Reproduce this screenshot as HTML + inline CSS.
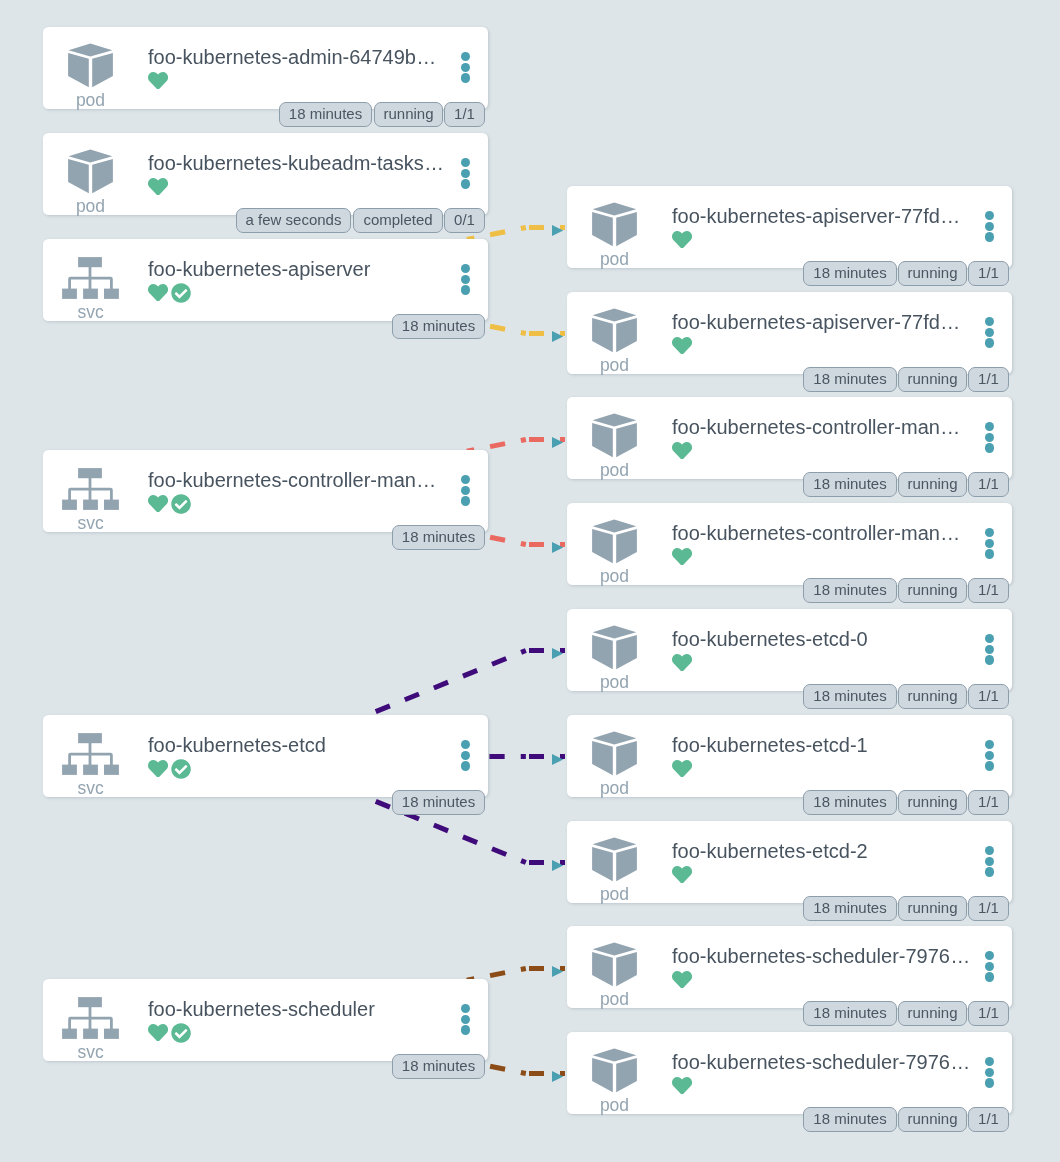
<!DOCTYPE html>
<html><head><meta charset="utf-8"><style>
html,body{margin:0;padding:0;}
body{width:1060px;height:1162px;background:#dee5e8;position:relative;overflow:hidden;font-family:"Liberation Sans",sans-serif;}
.edges{position:absolute;left:0;top:0;}
.card{position:absolute;width:445px;height:82px;background:#fff;border-radius:5.5px;box-shadow:1px 1px 3px rgba(120,140,155,0.35);}
.ic{position:absolute;}
.kind{position:absolute;left:0;width:95px;text-align:center;top:63.3px;font-size:17.5px;line-height:20px;color:#93a4b1;will-change:transform;}
.title{position:absolute;left:104.9px;top:18.5px;font-size:20px;line-height:23px;color:#47535f;white-space:nowrap;will-change:transform;}
.ell{letter-spacing:0.8px;margin-left:1.2px;}
.dot{position:absolute;left:417.6px;width:9.2px;height:9.2px;border-radius:50%;background:#4a9fb1;}
.tag{position:absolute;top:75px;box-sizing:border-box;height:25px;border:1px solid #8d9eab;border-radius:7px;background:#d0d8df;color:#4a5662;font-size:15px;line-height:22.6px;text-align:center;white-space:nowrap;will-change:transform;}
</style></head><body>
<svg class="edges" width="1060" height="1162"><line x1="525.85" y1="227.50" x2="466.80" y2="239.52" stroke="#efbf45" stroke-width="5" stroke-dasharray="15.3 16.1" stroke-dashoffset="10.2"/><line x1="529" y1="227.50" x2="565" y2="227.50" stroke="#efbf45" stroke-width="5" stroke-dasharray="15 16"/><line x1="525.85" y1="333.50" x2="464.45" y2="321.00" stroke="#efbf45" stroke-width="5" stroke-dasharray="15.3 16.1" stroke-dashoffset="10.2"/><line x1="529" y1="333.50" x2="565" y2="333.50" stroke="#efbf45" stroke-width="5" stroke-dasharray="15 16"/><line x1="525.85" y1="439.50" x2="466.80" y2="451.29" stroke="#ea6a62" stroke-width="5" stroke-dasharray="15.3 16.1" stroke-dashoffset="10.2"/><line x1="529" y1="439.50" x2="565" y2="439.50" stroke="#ea6a62" stroke-width="5" stroke-dasharray="15 16"/><line x1="525.85" y1="544.50" x2="464.45" y2="532.00" stroke="#ea6a62" stroke-width="5" stroke-dasharray="15.3 16.1" stroke-dashoffset="10.2"/><line x1="529" y1="544.50" x2="565" y2="544.50" stroke="#ea6a62" stroke-width="5" stroke-dasharray="15 16"/><line x1="525.85" y1="650.50" x2="367.43" y2="715.00" stroke="#3f0b7a" stroke-width="5" stroke-dasharray="15.3 16.1" stroke-dashoffset="10.2"/><line x1="529" y1="650.50" x2="565" y2="650.50" stroke="#3f0b7a" stroke-width="5" stroke-dasharray="15 16"/><line x1="525.85" y1="756.50" x2="488.00" y2="756.50" stroke="#3f0b7a" stroke-width="5" stroke-dasharray="15.3 16.1" stroke-dashoffset="10.2"/><line x1="529" y1="756.50" x2="565" y2="756.50" stroke="#3f0b7a" stroke-width="5" stroke-dasharray="15 16"/><line x1="525.85" y1="862.50" x2="364.97" y2="797.00" stroke="#3f0b7a" stroke-width="5" stroke-dasharray="15.3 16.1" stroke-dashoffset="10.2"/><line x1="529" y1="862.50" x2="565" y2="862.50" stroke="#3f0b7a" stroke-width="5" stroke-dasharray="15 16"/><line x1="525.85" y1="968.50" x2="466.80" y2="980.29" stroke="#8b4c17" stroke-width="5" stroke-dasharray="15.3 16.1" stroke-dashoffset="10.2"/><line x1="529" y1="968.50" x2="565" y2="968.50" stroke="#8b4c17" stroke-width="5" stroke-dasharray="15 16"/><line x1="525.85" y1="1073.50" x2="464.45" y2="1061.00" stroke="#8b4c17" stroke-width="5" stroke-dasharray="15.3 16.1" stroke-dashoffset="10.2"/><line x1="529" y1="1073.50" x2="565" y2="1073.50" stroke="#8b4c17" stroke-width="5" stroke-dasharray="15 16"/><polygon points="552,225.00 563.2,230.50 552,236.00" fill="#4a9fb1"/><polygon points="552,331.00 563.2,336.50 552,342.00" fill="#4a9fb1"/><polygon points="552,437.00 563.2,442.50 552,448.00" fill="#4a9fb1"/><polygon points="552,542.00 563.2,547.50 552,553.00" fill="#4a9fb1"/><polygon points="552,648.00 563.2,653.50 552,659.00" fill="#4a9fb1"/><polygon points="552,754.00 563.2,759.50 552,765.00" fill="#4a9fb1"/><polygon points="552,860.00 563.2,865.50 552,871.00" fill="#4a9fb1"/><polygon points="552,966.00 563.2,971.50 552,977.00" fill="#4a9fb1"/><polygon points="552,1071.00 563.2,1076.50 552,1082.00" fill="#4a9fb1"/></svg>
<div class="card" style="left:43.00px;top:27.00px"><svg class="ic" width="95" height="82" viewBox="0 0 95 82" style="left:0.4px;top:0.4px"><g fill="#93a4b1">
<polygon points="25.6,23.2 47.3,16.6 69.3,23.2 47.3,29.4"/>
<polygon points="25.1,25.9 45.8,31.8 45.8,60.3 25.1,49"/>
<polygon points="49.2,31.8 69.9,25.9 69.9,49 49.2,60.3"/>
</g></svg><div class="kind">pod</div><div class="title">foo-kubernetes-admin-64749b<span class="ell">...</span></div><svg class="ic" width="20.1" height="17.59" viewBox="0 32 512 448" style="left:105px;top:44.6px"><path fill="#5bb994" d="M462.3 62.6C407.5 15.9 326 24.3 275.7 76.2L256 96.5l-19.7-20.3C186.1 24.3 104.5 15.9 49.7 62.6c-62.8 53.6-66.1 149.8-9.9 207.9l193.5 199.8c12.5 12.9 32.8 12.9 45.3 0l193.5-199.8c56.3-58.1 53-154.3-9.8-207.9z"/></svg><div class="dot" style="top:24.70px"></div><div class="dot" style="top:35.60px"></div><div class="dot" style="top:46.40px"></div><div class="tag" style="left:236.00px;width:93.00px">18 minutes</div><div class="tag" style="left:331.00px;width:69.00px">running</div><div class="tag" style="left:401.00px;width:41.00px">1/1</div></div>
<div class="card" style="left:43.00px;top:133.00px"><svg class="ic" width="95" height="82" viewBox="0 0 95 82" style="left:0.4px;top:0.4px"><g fill="#93a4b1">
<polygon points="25.6,23.2 47.3,16.6 69.3,23.2 47.3,29.4"/>
<polygon points="25.1,25.9 45.8,31.8 45.8,60.3 25.1,49"/>
<polygon points="49.2,31.8 69.9,25.9 69.9,49 49.2,60.3"/>
</g></svg><div class="kind">pod</div><div class="title">foo-kubernetes-kubeadm-tasks<span class="ell">...</span></div><svg class="ic" width="20.1" height="17.59" viewBox="0 32 512 448" style="left:105px;top:44.6px"><path fill="#5bb994" d="M462.3 62.6C407.5 15.9 326 24.3 275.7 76.2L256 96.5l-19.7-20.3C186.1 24.3 104.5 15.9 49.7 62.6c-62.8 53.6-66.1 149.8-9.9 207.9l193.5 199.8c12.5 12.9 32.8 12.9 45.3 0l193.5-199.8c56.3-58.1 53-154.3-9.8-207.9z"/></svg><div class="dot" style="top:24.70px"></div><div class="dot" style="top:35.60px"></div><div class="dot" style="top:46.40px"></div><div class="tag" style="left:193.00px;width:115.00px">a few seconds</div><div class="tag" style="left:310.00px;width:90.00px">completed</div><div class="tag" style="left:401.00px;width:41.00px">0/1</div></div>
<div class="card" style="left:43.00px;top:239.00px"><svg class="ic" width="60" height="46" viewBox="0 0 60 46" style="left:17.5px;top:16px"><g fill="#93a4b1">
<rect x="17.1" y="2.1" width="23.8" height="10.1"/>
<rect x="27.6" y="12" width="2.8" height="22"/>
<path d="M7.2 21.7 H49.6 Q51.8 21.7 51.8 23.9 V34 H49 V24.4 H10 V34 H7.2 V23.9 Q7.2 21.7 9.4 21.7 Z"/>
<rect x="1.1" y="33.6" width="14.8" height="10.3"/>
<rect x="22.1" y="33.6" width="14.8" height="10.3"/>
<rect x="43" y="33.6" width="14.9" height="10.3"/>
</g></svg><div class="kind">svc</div><div class="title">foo-kubernetes-apiserver</div><svg class="ic" width="20.1" height="17.59" viewBox="0 32 512 448" style="left:105px;top:44.6px"><path fill="#5bb994" d="M462.3 62.6C407.5 15.9 326 24.3 275.7 76.2L256 96.5l-19.7-20.3C186.1 24.3 104.5 15.9 49.7 62.6c-62.8 53.6-66.1 149.8-9.9 207.9l193.5 199.8c12.5 12.9 32.8 12.9 45.3 0l193.5-199.8c56.3-58.1 53-154.3-9.8-207.9z"/></svg><svg class="ic" width="20.12" height="20.12" viewBox="0 0 512 512" style="left:128.14px;top:43.7px"><path fill="#5bb994" d="M504 256c0 136.967-111.033 248-248 248S8 392.967 8 256 119.033 8 256 8s248 111.033 248 248zM227.314 387.314l184-184c6.248-6.248 6.248-16.379 0-22.627l-22.627-22.627c-6.248-6.249-16.379-6.249-22.628 0L216 308.118l-70.059-70.059c-6.248-6.248-16.379-6.248-22.628 0l-22.627 22.627c-6.248 6.248-6.248 16.379 0 22.627l104 104c6.249 6.249 16.379 6.249 22.628.001z"/></svg><div class="dot" style="top:24.70px"></div><div class="dot" style="top:35.60px"></div><div class="dot" style="top:46.40px"></div><div class="tag" style="left:349.00px;width:93.00px">18 minutes</div></div>
<div class="card" style="left:43.00px;top:450.00px"><svg class="ic" width="60" height="46" viewBox="0 0 60 46" style="left:17.5px;top:16px"><g fill="#93a4b1">
<rect x="17.1" y="2.1" width="23.8" height="10.1"/>
<rect x="27.6" y="12" width="2.8" height="22"/>
<path d="M7.2 21.7 H49.6 Q51.8 21.7 51.8 23.9 V34 H49 V24.4 H10 V34 H7.2 V23.9 Q7.2 21.7 9.4 21.7 Z"/>
<rect x="1.1" y="33.6" width="14.8" height="10.3"/>
<rect x="22.1" y="33.6" width="14.8" height="10.3"/>
<rect x="43" y="33.6" width="14.9" height="10.3"/>
</g></svg><div class="kind">svc</div><div class="title">foo-kubernetes-controller-man<span class="ell">...</span></div><svg class="ic" width="20.1" height="17.59" viewBox="0 32 512 448" style="left:105px;top:44.6px"><path fill="#5bb994" d="M462.3 62.6C407.5 15.9 326 24.3 275.7 76.2L256 96.5l-19.7-20.3C186.1 24.3 104.5 15.9 49.7 62.6c-62.8 53.6-66.1 149.8-9.9 207.9l193.5 199.8c12.5 12.9 32.8 12.9 45.3 0l193.5-199.8c56.3-58.1 53-154.3-9.8-207.9z"/></svg><svg class="ic" width="20.12" height="20.12" viewBox="0 0 512 512" style="left:128.14px;top:43.7px"><path fill="#5bb994" d="M504 256c0 136.967-111.033 248-248 248S8 392.967 8 256 119.033 8 256 8s248 111.033 248 248zM227.314 387.314l184-184c6.248-6.248 6.248-16.379 0-22.627l-22.627-22.627c-6.248-6.249-16.379-6.249-22.628 0L216 308.118l-70.059-70.059c-6.248-6.248-16.379-6.248-22.628 0l-22.627 22.627c-6.248 6.248-6.248 16.379 0 22.627l104 104c6.249 6.249 16.379 6.249 22.628.001z"/></svg><div class="dot" style="top:24.70px"></div><div class="dot" style="top:35.60px"></div><div class="dot" style="top:46.40px"></div><div class="tag" style="left:349.00px;width:93.00px">18 minutes</div></div>
<div class="card" style="left:43.00px;top:715.00px"><svg class="ic" width="60" height="46" viewBox="0 0 60 46" style="left:17.5px;top:16px"><g fill="#93a4b1">
<rect x="17.1" y="2.1" width="23.8" height="10.1"/>
<rect x="27.6" y="12" width="2.8" height="22"/>
<path d="M7.2 21.7 H49.6 Q51.8 21.7 51.8 23.9 V34 H49 V24.4 H10 V34 H7.2 V23.9 Q7.2 21.7 9.4 21.7 Z"/>
<rect x="1.1" y="33.6" width="14.8" height="10.3"/>
<rect x="22.1" y="33.6" width="14.8" height="10.3"/>
<rect x="43" y="33.6" width="14.9" height="10.3"/>
</g></svg><div class="kind">svc</div><div class="title">foo-kubernetes-etcd</div><svg class="ic" width="20.1" height="17.59" viewBox="0 32 512 448" style="left:105px;top:44.6px"><path fill="#5bb994" d="M462.3 62.6C407.5 15.9 326 24.3 275.7 76.2L256 96.5l-19.7-20.3C186.1 24.3 104.5 15.9 49.7 62.6c-62.8 53.6-66.1 149.8-9.9 207.9l193.5 199.8c12.5 12.9 32.8 12.9 45.3 0l193.5-199.8c56.3-58.1 53-154.3-9.8-207.9z"/></svg><svg class="ic" width="20.12" height="20.12" viewBox="0 0 512 512" style="left:128.14px;top:43.7px"><path fill="#5bb994" d="M504 256c0 136.967-111.033 248-248 248S8 392.967 8 256 119.033 8 256 8s248 111.033 248 248zM227.314 387.314l184-184c6.248-6.248 6.248-16.379 0-22.627l-22.627-22.627c-6.248-6.249-16.379-6.249-22.628 0L216 308.118l-70.059-70.059c-6.248-6.248-16.379-6.248-22.628 0l-22.627 22.627c-6.248 6.248-6.248 16.379 0 22.627l104 104c6.249 6.249 16.379 6.249 22.628.001z"/></svg><div class="dot" style="top:24.70px"></div><div class="dot" style="top:35.60px"></div><div class="dot" style="top:46.40px"></div><div class="tag" style="left:349.00px;width:93.00px">18 minutes</div></div>
<div class="card" style="left:43.00px;top:979.00px"><svg class="ic" width="60" height="46" viewBox="0 0 60 46" style="left:17.5px;top:16px"><g fill="#93a4b1">
<rect x="17.1" y="2.1" width="23.8" height="10.1"/>
<rect x="27.6" y="12" width="2.8" height="22"/>
<path d="M7.2 21.7 H49.6 Q51.8 21.7 51.8 23.9 V34 H49 V24.4 H10 V34 H7.2 V23.9 Q7.2 21.7 9.4 21.7 Z"/>
<rect x="1.1" y="33.6" width="14.8" height="10.3"/>
<rect x="22.1" y="33.6" width="14.8" height="10.3"/>
<rect x="43" y="33.6" width="14.9" height="10.3"/>
</g></svg><div class="kind">svc</div><div class="title">foo-kubernetes-scheduler</div><svg class="ic" width="20.1" height="17.59" viewBox="0 32 512 448" style="left:105px;top:44.6px"><path fill="#5bb994" d="M462.3 62.6C407.5 15.9 326 24.3 275.7 76.2L256 96.5l-19.7-20.3C186.1 24.3 104.5 15.9 49.7 62.6c-62.8 53.6-66.1 149.8-9.9 207.9l193.5 199.8c12.5 12.9 32.8 12.9 45.3 0l193.5-199.8c56.3-58.1 53-154.3-9.8-207.9z"/></svg><svg class="ic" width="20.12" height="20.12" viewBox="0 0 512 512" style="left:128.14px;top:43.7px"><path fill="#5bb994" d="M504 256c0 136.967-111.033 248-248 248S8 392.967 8 256 119.033 8 256 8s248 111.033 248 248zM227.314 387.314l184-184c6.248-6.248 6.248-16.379 0-22.627l-22.627-22.627c-6.248-6.249-16.379-6.249-22.628 0L216 308.118l-70.059-70.059c-6.248-6.248-16.379-6.248-22.628 0l-22.627 22.627c-6.248 6.248-6.248 16.379 0 22.627l104 104c6.249 6.249 16.379 6.249 22.628.001z"/></svg><div class="dot" style="top:24.70px"></div><div class="dot" style="top:35.60px"></div><div class="dot" style="top:46.40px"></div><div class="tag" style="left:349.00px;width:93.00px">18 minutes</div></div>
<div class="card" style="left:567.00px;top:186.00px"><svg class="ic" width="95" height="82" viewBox="0 0 95 82" style="left:0.4px;top:0.4px"><g fill="#93a4b1">
<polygon points="25.6,23.2 47.3,16.6 69.3,23.2 47.3,29.4"/>
<polygon points="25.1,25.9 45.8,31.8 45.8,60.3 25.1,49"/>
<polygon points="49.2,31.8 69.9,25.9 69.9,49 49.2,60.3"/>
</g></svg><div class="kind">pod</div><div class="title">foo-kubernetes-apiserver-77fd<span class="ell">...</span></div><svg class="ic" width="20.1" height="17.59" viewBox="0 32 512 448" style="left:105px;top:44.6px"><path fill="#5bb994" d="M462.3 62.6C407.5 15.9 326 24.3 275.7 76.2L256 96.5l-19.7-20.3C186.1 24.3 104.5 15.9 49.7 62.6c-62.8 53.6-66.1 149.8-9.9 207.9l193.5 199.8c12.5 12.9 32.8 12.9 45.3 0l193.5-199.8c56.3-58.1 53-154.3-9.8-207.9z"/></svg><div class="dot" style="top:24.70px"></div><div class="dot" style="top:35.60px"></div><div class="dot" style="top:46.40px"></div><div class="tag" style="left:236.00px;width:94.00px">18 minutes</div><div class="tag" style="left:331.00px;width:69.00px">running</div><div class="tag" style="left:401.00px;width:41.00px">1/1</div></div>
<div class="card" style="left:567.00px;top:292.00px"><svg class="ic" width="95" height="82" viewBox="0 0 95 82" style="left:0.4px;top:0.4px"><g fill="#93a4b1">
<polygon points="25.6,23.2 47.3,16.6 69.3,23.2 47.3,29.4"/>
<polygon points="25.1,25.9 45.8,31.8 45.8,60.3 25.1,49"/>
<polygon points="49.2,31.8 69.9,25.9 69.9,49 49.2,60.3"/>
</g></svg><div class="kind">pod</div><div class="title">foo-kubernetes-apiserver-77fd<span class="ell">...</span></div><svg class="ic" width="20.1" height="17.59" viewBox="0 32 512 448" style="left:105px;top:44.6px"><path fill="#5bb994" d="M462.3 62.6C407.5 15.9 326 24.3 275.7 76.2L256 96.5l-19.7-20.3C186.1 24.3 104.5 15.9 49.7 62.6c-62.8 53.6-66.1 149.8-9.9 207.9l193.5 199.8c12.5 12.9 32.8 12.9 45.3 0l193.5-199.8c56.3-58.1 53-154.3-9.8-207.9z"/></svg><div class="dot" style="top:24.70px"></div><div class="dot" style="top:35.60px"></div><div class="dot" style="top:46.40px"></div><div class="tag" style="left:236.00px;width:94.00px">18 minutes</div><div class="tag" style="left:331.00px;width:69.00px">running</div><div class="tag" style="left:401.00px;width:41.00px">1/1</div></div>
<div class="card" style="left:567.00px;top:397.00px"><svg class="ic" width="95" height="82" viewBox="0 0 95 82" style="left:0.4px;top:0.4px"><g fill="#93a4b1">
<polygon points="25.6,23.2 47.3,16.6 69.3,23.2 47.3,29.4"/>
<polygon points="25.1,25.9 45.8,31.8 45.8,60.3 25.1,49"/>
<polygon points="49.2,31.8 69.9,25.9 69.9,49 49.2,60.3"/>
</g></svg><div class="kind">pod</div><div class="title">foo-kubernetes-controller-man<span class="ell">...</span></div><svg class="ic" width="20.1" height="17.59" viewBox="0 32 512 448" style="left:105px;top:44.6px"><path fill="#5bb994" d="M462.3 62.6C407.5 15.9 326 24.3 275.7 76.2L256 96.5l-19.7-20.3C186.1 24.3 104.5 15.9 49.7 62.6c-62.8 53.6-66.1 149.8-9.9 207.9l193.5 199.8c12.5 12.9 32.8 12.9 45.3 0l193.5-199.8c56.3-58.1 53-154.3-9.8-207.9z"/></svg><div class="dot" style="top:24.70px"></div><div class="dot" style="top:35.60px"></div><div class="dot" style="top:46.40px"></div><div class="tag" style="left:236.00px;width:94.00px">18 minutes</div><div class="tag" style="left:331.00px;width:69.00px">running</div><div class="tag" style="left:401.00px;width:41.00px">1/1</div></div>
<div class="card" style="left:567.00px;top:503.00px"><svg class="ic" width="95" height="82" viewBox="0 0 95 82" style="left:0.4px;top:0.4px"><g fill="#93a4b1">
<polygon points="25.6,23.2 47.3,16.6 69.3,23.2 47.3,29.4"/>
<polygon points="25.1,25.9 45.8,31.8 45.8,60.3 25.1,49"/>
<polygon points="49.2,31.8 69.9,25.9 69.9,49 49.2,60.3"/>
</g></svg><div class="kind">pod</div><div class="title">foo-kubernetes-controller-man<span class="ell">...</span></div><svg class="ic" width="20.1" height="17.59" viewBox="0 32 512 448" style="left:105px;top:44.6px"><path fill="#5bb994" d="M462.3 62.6C407.5 15.9 326 24.3 275.7 76.2L256 96.5l-19.7-20.3C186.1 24.3 104.5 15.9 49.7 62.6c-62.8 53.6-66.1 149.8-9.9 207.9l193.5 199.8c12.5 12.9 32.8 12.9 45.3 0l193.5-199.8c56.3-58.1 53-154.3-9.8-207.9z"/></svg><div class="dot" style="top:24.70px"></div><div class="dot" style="top:35.60px"></div><div class="dot" style="top:46.40px"></div><div class="tag" style="left:236.00px;width:94.00px">18 minutes</div><div class="tag" style="left:331.00px;width:69.00px">running</div><div class="tag" style="left:401.00px;width:41.00px">1/1</div></div>
<div class="card" style="left:567.00px;top:609.00px"><svg class="ic" width="95" height="82" viewBox="0 0 95 82" style="left:0.4px;top:0.4px"><g fill="#93a4b1">
<polygon points="25.6,23.2 47.3,16.6 69.3,23.2 47.3,29.4"/>
<polygon points="25.1,25.9 45.8,31.8 45.8,60.3 25.1,49"/>
<polygon points="49.2,31.8 69.9,25.9 69.9,49 49.2,60.3"/>
</g></svg><div class="kind">pod</div><div class="title">foo-kubernetes-etcd-0</div><svg class="ic" width="20.1" height="17.59" viewBox="0 32 512 448" style="left:105px;top:44.6px"><path fill="#5bb994" d="M462.3 62.6C407.5 15.9 326 24.3 275.7 76.2L256 96.5l-19.7-20.3C186.1 24.3 104.5 15.9 49.7 62.6c-62.8 53.6-66.1 149.8-9.9 207.9l193.5 199.8c12.5 12.9 32.8 12.9 45.3 0l193.5-199.8c56.3-58.1 53-154.3-9.8-207.9z"/></svg><div class="dot" style="top:24.70px"></div><div class="dot" style="top:35.60px"></div><div class="dot" style="top:46.40px"></div><div class="tag" style="left:236.00px;width:94.00px">18 minutes</div><div class="tag" style="left:331.00px;width:69.00px">running</div><div class="tag" style="left:401.00px;width:41.00px">1/1</div></div>
<div class="card" style="left:567.00px;top:715.00px"><svg class="ic" width="95" height="82" viewBox="0 0 95 82" style="left:0.4px;top:0.4px"><g fill="#93a4b1">
<polygon points="25.6,23.2 47.3,16.6 69.3,23.2 47.3,29.4"/>
<polygon points="25.1,25.9 45.8,31.8 45.8,60.3 25.1,49"/>
<polygon points="49.2,31.8 69.9,25.9 69.9,49 49.2,60.3"/>
</g></svg><div class="kind">pod</div><div class="title">foo-kubernetes-etcd-1</div><svg class="ic" width="20.1" height="17.59" viewBox="0 32 512 448" style="left:105px;top:44.6px"><path fill="#5bb994" d="M462.3 62.6C407.5 15.9 326 24.3 275.7 76.2L256 96.5l-19.7-20.3C186.1 24.3 104.5 15.9 49.7 62.6c-62.8 53.6-66.1 149.8-9.9 207.9l193.5 199.8c12.5 12.9 32.8 12.9 45.3 0l193.5-199.8c56.3-58.1 53-154.3-9.8-207.9z"/></svg><div class="dot" style="top:24.70px"></div><div class="dot" style="top:35.60px"></div><div class="dot" style="top:46.40px"></div><div class="tag" style="left:236.00px;width:94.00px">18 minutes</div><div class="tag" style="left:331.00px;width:69.00px">running</div><div class="tag" style="left:401.00px;width:41.00px">1/1</div></div>
<div class="card" style="left:567.00px;top:821.00px"><svg class="ic" width="95" height="82" viewBox="0 0 95 82" style="left:0.4px;top:0.4px"><g fill="#93a4b1">
<polygon points="25.6,23.2 47.3,16.6 69.3,23.2 47.3,29.4"/>
<polygon points="25.1,25.9 45.8,31.8 45.8,60.3 25.1,49"/>
<polygon points="49.2,31.8 69.9,25.9 69.9,49 49.2,60.3"/>
</g></svg><div class="kind">pod</div><div class="title">foo-kubernetes-etcd-2</div><svg class="ic" width="20.1" height="17.59" viewBox="0 32 512 448" style="left:105px;top:44.6px"><path fill="#5bb994" d="M462.3 62.6C407.5 15.9 326 24.3 275.7 76.2L256 96.5l-19.7-20.3C186.1 24.3 104.5 15.9 49.7 62.6c-62.8 53.6-66.1 149.8-9.9 207.9l193.5 199.8c12.5 12.9 32.8 12.9 45.3 0l193.5-199.8c56.3-58.1 53-154.3-9.8-207.9z"/></svg><div class="dot" style="top:24.70px"></div><div class="dot" style="top:35.60px"></div><div class="dot" style="top:46.40px"></div><div class="tag" style="left:236.00px;width:94.00px">18 minutes</div><div class="tag" style="left:331.00px;width:69.00px">running</div><div class="tag" style="left:401.00px;width:41.00px">1/1</div></div>
<div class="card" style="left:567.00px;top:926.00px"><svg class="ic" width="95" height="82" viewBox="0 0 95 82" style="left:0.4px;top:0.4px"><g fill="#93a4b1">
<polygon points="25.6,23.2 47.3,16.6 69.3,23.2 47.3,29.4"/>
<polygon points="25.1,25.9 45.8,31.8 45.8,60.3 25.1,49"/>
<polygon points="49.2,31.8 69.9,25.9 69.9,49 49.2,60.3"/>
</g></svg><div class="kind">pod</div><div class="title">foo-kubernetes-scheduler-7976<span class="ell">...</span></div><svg class="ic" width="20.1" height="17.59" viewBox="0 32 512 448" style="left:105px;top:44.6px"><path fill="#5bb994" d="M462.3 62.6C407.5 15.9 326 24.3 275.7 76.2L256 96.5l-19.7-20.3C186.1 24.3 104.5 15.9 49.7 62.6c-62.8 53.6-66.1 149.8-9.9 207.9l193.5 199.8c12.5 12.9 32.8 12.9 45.3 0l193.5-199.8c56.3-58.1 53-154.3-9.8-207.9z"/></svg><div class="dot" style="top:24.70px"></div><div class="dot" style="top:35.60px"></div><div class="dot" style="top:46.40px"></div><div class="tag" style="left:236.00px;width:94.00px">18 minutes</div><div class="tag" style="left:331.00px;width:69.00px">running</div><div class="tag" style="left:401.00px;width:41.00px">1/1</div></div>
<div class="card" style="left:567.00px;top:1032.00px"><svg class="ic" width="95" height="82" viewBox="0 0 95 82" style="left:0.4px;top:0.4px"><g fill="#93a4b1">
<polygon points="25.6,23.2 47.3,16.6 69.3,23.2 47.3,29.4"/>
<polygon points="25.1,25.9 45.8,31.8 45.8,60.3 25.1,49"/>
<polygon points="49.2,31.8 69.9,25.9 69.9,49 49.2,60.3"/>
</g></svg><div class="kind">pod</div><div class="title">foo-kubernetes-scheduler-7976<span class="ell">...</span></div><svg class="ic" width="20.1" height="17.59" viewBox="0 32 512 448" style="left:105px;top:44.6px"><path fill="#5bb994" d="M462.3 62.6C407.5 15.9 326 24.3 275.7 76.2L256 96.5l-19.7-20.3C186.1 24.3 104.5 15.9 49.7 62.6c-62.8 53.6-66.1 149.8-9.9 207.9l193.5 199.8c12.5 12.9 32.8 12.9 45.3 0l193.5-199.8c56.3-58.1 53-154.3-9.8-207.9z"/></svg><div class="dot" style="top:24.70px"></div><div class="dot" style="top:35.60px"></div><div class="dot" style="top:46.40px"></div><div class="tag" style="left:236.00px;width:94.00px">18 minutes</div><div class="tag" style="left:331.00px;width:69.00px">running</div><div class="tag" style="left:401.00px;width:41.00px">1/1</div></div>
</body></html>
